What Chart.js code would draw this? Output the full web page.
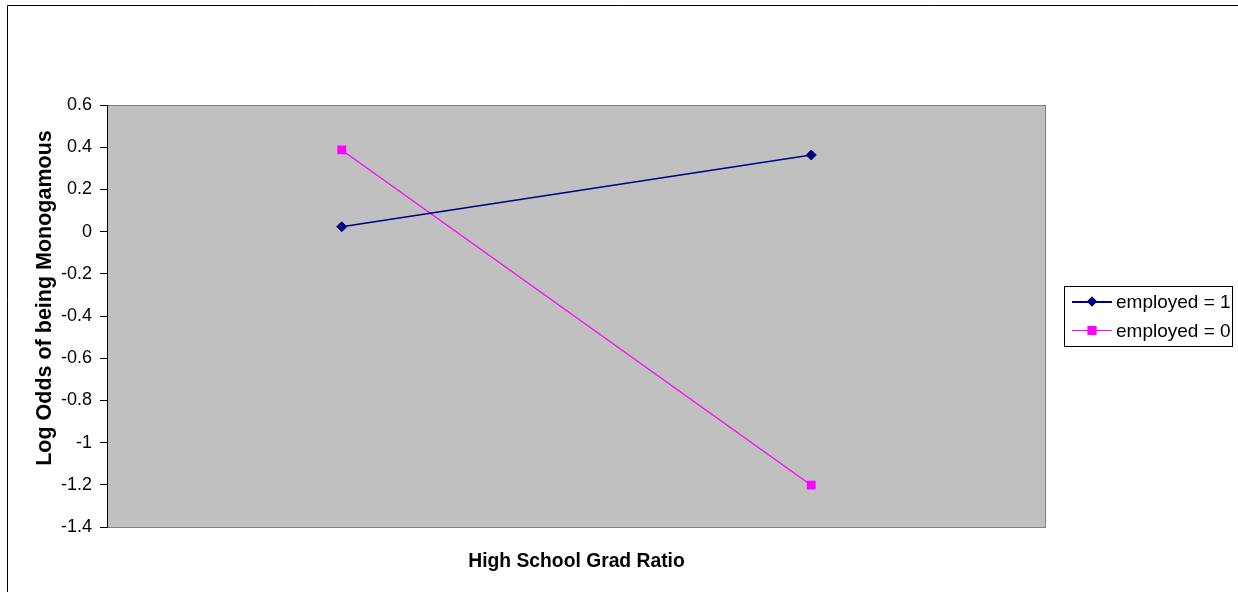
<!DOCTYPE html>
<html>
<head>
<meta charset="utf-8">
<script src="https://cdn.jsdelivr.net/npm/chart.js@4.4.1/dist/chart.umd.min.js"></script>
<style>
  html, body { margin: 0; padding: 0; background: #ffffff; }
  #wrap { width: 1238px; height: 592px; position: relative; }
</style>
</head>
<body>
<div id="wrap"><canvas id="c" width="1238" height="592"></canvas></div>
<script>
// Two levels of the high school graduation ratio (category labels are not shown on the axis)
const categories = ['Low', 'High'];
const employed1 = [0.023, 0.363];
const employed0 = [0.387, -1.202];
const seriesNames = ['employed = 1', 'employed = 0'];
const yTicks = [-1.4, -1.2, -1, -0.8, -0.6, -0.4, -0.2, 0, 0.2, 0.4, 0.6];
const yTitle = 'Log Odds of being Monogamous';
const xTitle = 'High School Grad Ratio';

const FONT = 'Liberation Sans, Arial, Helvetica, sans-serif';

// Grey plot area with a darker frame, plus the outer chart frame
const frame = {
  id: 'frame',
  beforeDraw(chart) {
    const { ctx, chartArea: a } = chart;
    ctx.save();
    ctx.fillStyle = '#ffffff';
    ctx.fillRect(0, 0, chart.width, chart.height);
    ctx.strokeStyle = '#000000';
    ctx.lineWidth = 1;
    ctx.beginPath();
    ctx.moveTo(7.5, chart.height + 2);
    ctx.lineTo(7.5, 5.5);
    ctx.lineTo(chart.width + 2, 5.5);
    ctx.stroke();
    ctx.fillStyle = '#c0c0c0';
    ctx.fillRect(a.left, a.top, a.right - a.left, a.bottom - a.top);
    ctx.strokeStyle = '#808080';
    ctx.strokeRect(a.left + 0.5, a.top + 0.5, a.right - a.left - 1, a.bottom - a.top);
    ctx.restore();
  }
};

// Rotated value-axis title, set a little above the plot's vertical centre
const valueTitle = {
  id: 'valueTitle',
  afterDraw(chart) {
    const { ctx } = chart;
    ctx.save();
    ctx.translate(45, 298);
    ctx.rotate(-Math.PI / 2);
    ctx.fillStyle = '#000000';
    ctx.font = 'bold 21.5px ' + FONT;
    ctx.textAlign = 'center';
    ctx.textBaseline = 'middle';
    ctx.fillText(yTitle, 0, 0);
    ctx.restore();
  }
};

// Legend box with line-and-marker samples built from the datasets
const sideLegend = {
  id: 'sideLegend',
  afterDraw(chart) {
    const { ctx } = chart;
    const box = { x: 1064.5, y: 286.5, w: 168, h: 60 };
    ctx.save();
    ctx.fillStyle = '#ffffff';
    ctx.fillRect(box.x, box.y, box.w, box.h);
    ctx.strokeStyle = '#000000';
    ctx.lineWidth = 1;
    ctx.strokeRect(box.x, box.y, box.w, box.h);
    const rows = [302, 331];
    chart.data.datasets.forEach((ds, i) => {
      const y = rows[i];
      ctx.fillStyle = ds.borderColor;
      ctx.fillRect(1072, y - 1, 40, ds.borderWidth > 1.4 ? 2 : 1);
      Chart.helpers.drawPoint(ctx, {
        pointStyle: ds.pointStyle,
        radius: ds.pointRadius,
        borderWidth: 0
      }, 1092, y - 0.5);
      ctx.fillStyle = ds.pointBackgroundColor;
      ctx.fill();
      ctx.fillStyle = '#000000';
      ctx.font = '19px ' + FONT;
      ctx.textBaseline = 'middle';
      ctx.textAlign = 'left';
      ctx.fillText(ds.label, 1116, y + 1);
    });
    ctx.restore();
  }
};

new Chart(document.getElementById('c'), {
  type: 'line',
  data: {
    labels: categories,
    datasets: [
      {
        label: seriesNames[0],
        data: employed1,
        borderColor: '#000080',
        borderWidth: 1.6,
        pointStyle: 'rectRot',
        pointRadius: 5,
        pointBackgroundColor: '#000080',
        pointBorderColor: '#000080',
        pointBorderWidth: 1,
        tension: 0
      },
      {
        label: seriesNames[1],
        data: employed0,
        borderColor: '#ff00ff',
        borderWidth: 1.2,
        pointStyle: 'rect',
        pointRadius: 6.2,
        pointBackgroundColor: '#ff00ff',
        pointBorderColor: '#ff00ff',
        pointBorderWidth: 0,
        tension: 0
      }
    ]
  },
  options: {
    responsive: false,
    animation: false,
    devicePixelRatio: 1,
    layout: { padding: { left: 0, top: 105, right: 192, bottom: 0 } },
    plugins: {
      legend: { display: false },
      tooltip: { enabled: false }
    },
    scales: {
      x: {
        offset: true,
        grid: { display: false },
        border: { display: false },
        ticks: { display: false },
        title: {
          display: true,
          text: xTitle,
          color: '#000000',
          font: { family: FONT, size: 19.3, weight: 'bold' },
          padding: { top: 0, bottom: 19 }
        },
        afterFit(scale) { scale.height = 65; }
      },
      y: {
        min: -1.4,
        max: 0.6,
        afterBuildTicks(scale) { scale.ticks = yTicks.map(v => ({ value: v })); },
        grid: {
          drawOnChartArea: false,
          drawTicks: true,
          tickLength: 7,
          color: '#000000'
        },
        border: { display: true, color: '#000000', width: 1 },
        ticks: {
          color: '#000000',
          padding: 8,
          font: { family: FONT, size: 18 },
          callback: v => String(Math.round(v * 10) / 10)
        },
        afterFit(scale) { scale.width = 107; }
      }
    }
  },
  plugins: [frame, valueTitle, sideLegend]
});
</script>
</body>
</html>
